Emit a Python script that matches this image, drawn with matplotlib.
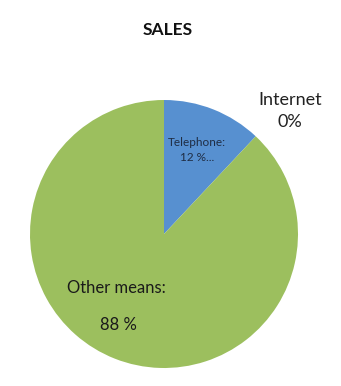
import matplotlib.pyplot as plt

# Sales channel shares (%)
channels = ["Telephone", "Internet", "Other means"]
shares = [12, 0, 88]
colors = ["#5790d0", "#c0504d", "#9cbf5e"]

W, H = 341, 386
fig = plt.figure(figsize=(W / 100, H / 100), dpi=100)
fig.patch.set_facecolor("white")

# pie centred at (164, 234) px, radius 134 px
cx, cy, r = 164, 234, 134
ax = fig.add_axes([(cx - r) / W, (H - cy - r) / H, 2 * r / W, 2 * r / H])
ax.pie(shares, colors=colors, startangle=90, counterclock=False,
       radius=1, wedgeprops=dict(linewidth=0))
ax.set_xlim(-1, 1)
ax.set_ylim(-1, 1)
ax.set_aspect("equal")
ax.axis("off")

font = "Lato"


def px(x, y):
    return x / W, 1 - y / H


fig.text(*px(168, 30), "SALES", ha="center", va="center",
         fontsize=12.5, fontweight="bold", family=font, color="#111111")
fig.text(*px(197, 150), f"{channels[0]}:\n{shares[0]} %...", ha="center",
         va="center", fontsize=8.5, family=font, color="#1f2d44",
         linespacing=1.4)
fig.text(*px(290, 111), f"{channels[1]}\n{shares[1]}%", ha="center",
         va="center", fontsize=13, family=font, color="#222222",
         linespacing=1.4)
fig.text(*px(116, 288), f"{channels[2]}:", ha="center", va="center",
         fontsize=12, family=font, color="#1a1a1a")
fig.text(*px(118, 325), f"{shares[2]} %", ha="center", va="center",
         fontsize=12, family=font, color="#1a1a1a")

fig.savefig("out.png", dpi=100)
